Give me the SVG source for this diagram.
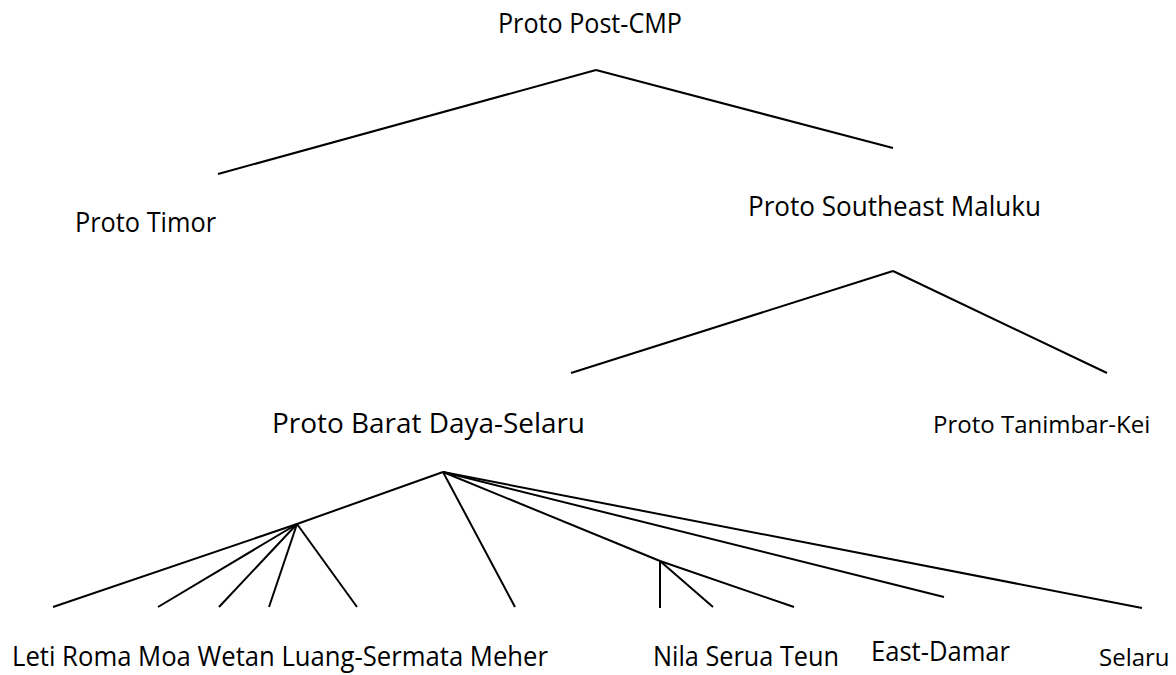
<svg xmlns="http://www.w3.org/2000/svg" width="1176" height="675" viewBox="0 0 1176 675">
  <style>
    .lbl { font-family: "Open Sans", "Noto Sans", "Liberation Sans", sans-serif; font-size: 27px; fill: #000; }
    .sm { font-size: 24px; }
    .edge { stroke: #000; stroke-width: 2; fill: none; stroke-linecap: butt; }
  </style>
  <rect width="1176" height="675" fill="#fff"/>

  <!-- branches of the family tree -->
  <g id="connectors" class="edge">
    <line x1="596" y1="70" x2="218" y2="174"/>
    <line x1="596" y1="70" x2="893" y2="148"/>
    <line x1="893" y1="271" x2="571" y2="373"/>
    <line x1="893" y1="271" x2="1107" y2="373"/>
    <line x1="443" y1="472" x2="297" y2="524"/>
    <line x1="297" y1="524" x2="53" y2="607"/>
    <line x1="297" y1="524" x2="158" y2="607"/>
    <line x1="297" y1="524" x2="219" y2="607"/>
    <line x1="297" y1="524" x2="269" y2="607"/>
    <line x1="297" y1="524" x2="357" y2="607"/>
    <line x1="443" y1="472" x2="515" y2="607"/>
    <line x1="443" y1="472" x2="660" y2="561"/>
    <line x1="660" y1="561" x2="794" y2="607"/>
    <line x1="660" y1="561" x2="660" y2="608"/>
    <line x1="660" y1="561" x2="713" y2="607"/>
    <line x1="443" y1="472" x2="944" y2="597"/>
    <line x1="443" y1="472" x2="1142" y2="608"/>
  </g>

  <g id="proto-post-cmp"><text class="lbl" x="498" y="33" textLength="184" lengthAdjust="spacingAndGlyphs">Proto Post-CMP</text></g>
  <g id="proto-timor"><text class="lbl" x="75" y="232" textLength="141" lengthAdjust="spacingAndGlyphs">Proto Timor</text></g>
  <g id="proto-southeast-maluku"><text class="lbl" x="748" y="216" textLength="293" lengthAdjust="spacingAndGlyphs">Proto Southeast Maluku</text></g>
  <g id="proto-barat-daya-selaru"><text class="lbl" x="272" y="433" textLength="313" lengthAdjust="spacingAndGlyphs">Proto Barat Daya-Selaru</text></g>
  <g id="proto-tanimbar-kei"><text class="lbl sm" x="933" y="433">Proto Tanimbar-Kei</text></g>
  <g id="leti-to-meher"><text class="lbl" x="12" y="666" textLength="536" lengthAdjust="spacingAndGlyphs">Leti Roma Moa Wetan Luang-Sermata Meher</text></g>
  <g id="nila-serua-teun"><text class="lbl" x="653" y="666" textLength="186" lengthAdjust="spacingAndGlyphs">Nila Serua Teun</text></g>
  <g id="east-damar"><text class="lbl" x="871" y="661" textLength="139" lengthAdjust="spacingAndGlyphs">East-Damar</text></g>
  <g id="selaru"><text class="lbl sm" x="1099" y="666">Selaru</text></g>
</svg>
